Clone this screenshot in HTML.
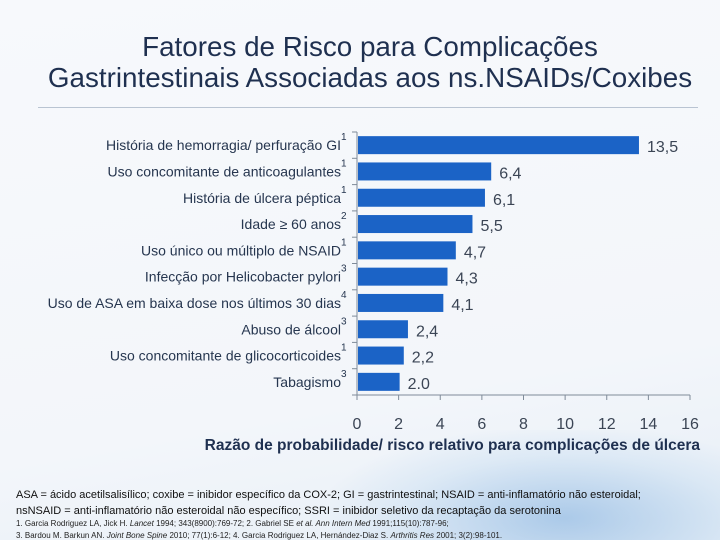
<!DOCTYPE html>
<html><head><meta charset="utf-8"><style>
html,body{margin:0;width:720px;height:540px;overflow:hidden}
body{font-family:"Liberation Sans",sans-serif;background:linear-gradient(170deg,#f7f9fc 0%,#f3f6fa 70%,#e6eef7 100%);position:relative}
#swoosh{position:absolute;left:330px;top:430px;width:390px;height:110px;background:radial-gradient(ellipse at 60% 80%,rgba(120,170,220,.55),rgba(170,205,235,.25) 50%,rgba(255,255,255,0) 75%)}
#title{position:absolute;top:31px;left:0;width:740px;text-align:center;font-size:27.8px;line-height:31px;color:#1f3050}
#rule{position:absolute;left:38px;top:107px;width:660px;height:1px;background:#b9c4d2}
.notes{position:absolute;left:16px;color:#101010}
</style></head><body>
<div id="swoosh"></div>
<div id="title">Fatores de Risco para Complicações<br>Gastrintestinais Associadas aos ns.NSAIDs/Coxibes</div>
<div id="rule"></div>
<svg id="chart" width="720" height="540" style="position:absolute;left:0;top:0"></svg>
<div class="notes" style="top:487px;font-size:11px;line-height:16px">ASA = ácido acetilsalisílico; coxibe = inibidor específico da COX-2; GI = gastrintestinal; NSAID = anti-inflamatório não esteroidal;<br>nsNSAID = anti-inflamatório não esteroidal não específico; SSRI = inibidor seletivo da recaptação da serotonina</div>
<div class="notes" style="top:518px;font-size:8px;line-height:12px;color:#222">1. Garcia Rodriguez LA, Jick H. <i>Lancet</i> 1994; 343(8900):769-72; 2. Gabriel SE <i>et al. Ann Intern Med</i> 1991;115(10):787-96;<br>3. Bardou M. Barkun AN. <i>Joint Bone Spine</i> 2010; 77(1):6-12; 4. Garcia Rodriguez LA, Hernández-Diaz S. <i>Arthritis Res</i> 2001; 3(2):98-101.</div>
<script>
const categories=["História de hemorragia/ perfuração GI","Uso concomitante de anticoagulantes","História de úlcera péptica","Idade ≥ 60 anos","Uso único ou múltiplo de NSAID","Infecção por Helicobacter pylori","Uso de ASA em baixa dose nos últimos 30 dias","Abuso de álcool","Uso concomitante de glicocorticoides","Tabagismo"];
const refs=["1","1","1","2","1","3","4","3","1","3"];
const values=[13.5,6.4,6.1,5.5,4.7,4.3,4.1,2.4,2.2,2.0];
const valueLabels=["13,5","6,4","6,1","5,5","4,7","4,3","4,1","2,4","2,2","2.0"];
const ticks=[0,2,4,6,8,10,12,14,16];
const NS="http://www.w3.org/2000/svg";
const svg=document.getElementById('chart');
const X0=357,X1=690,TOPY=132,STEP=26.3;
const xs=v=>X0+(v/16)*(X1-X0);
const yc=i=>TOPY+STEP*(i+0.5);
function mk(t,a,p){const e=document.createElementNS(NS,t);for(const k in a)e.setAttribute(k,a[k]);(p||svg).appendChild(e);return e;}
let ax=mk('line',{x1:X0,y1:TOPY,x2:X0,y2:TOPY+STEP*10,stroke:'#7f8b99','stroke-width':1});


let xa=mk('line',{x1:X0,y1:TOPY+STEP*10,x2:X1,y2:TOPY+STEP*10,stroke:'#7f8b99','stroke-width':1});


for(let i=0;i<=10;i++){let t=mk('line',{x1:X0-5,y1:TOPY+STEP*i,x2:X0,y2:TOPY+STEP*i,stroke:'#7f8b99'});

}
categories.forEach((c,i)=>{
 let b=mk('rect',{x:X0+1,y:yc(i)-9,width:xs(values[i])-X0,height:18,fill:'#1b63c6'});
 
 
 let l=mk('text',{x:X0-16,y:yc(i)+5,'text-anchor':'end','font-size':14,fill:'#26364f'});l.textContent=c;
 
 
 let s=mk('text',{x:X0-16,y:yc(i)-5,'font-size':10,fill:'#26364f'});s.textContent=refs[i];
 
 
 let v=mk('text',{x:xs(values[i])+9,y:yc(i)+7,'font-size':16,fill:'#3b4555'});v.textContent=valueLabels[i];
 
 
});
ticks.forEach(t=>{
 let m=mk('line',{x1:xs(t),y1:TOPY+STEP*10,x2:xs(t),y2:TOPY+STEP*10+5,stroke:'#7f8b99'});
 
 
 let l=mk('text',{x:xs(t),y:429,'text-anchor':'middle','font-size':16,fill:'#3b4555'});l.textContent=t;
 
 
});
let xt=mk('text',{x:700,y:450,'text-anchor':'end','font-size':15.5,'font-weight':'bold',fill:'#1f3050'});
xt.textContent='Razão de probabilidade/ risco relativo para complicações de úlcera';


</script>
</body></html>
